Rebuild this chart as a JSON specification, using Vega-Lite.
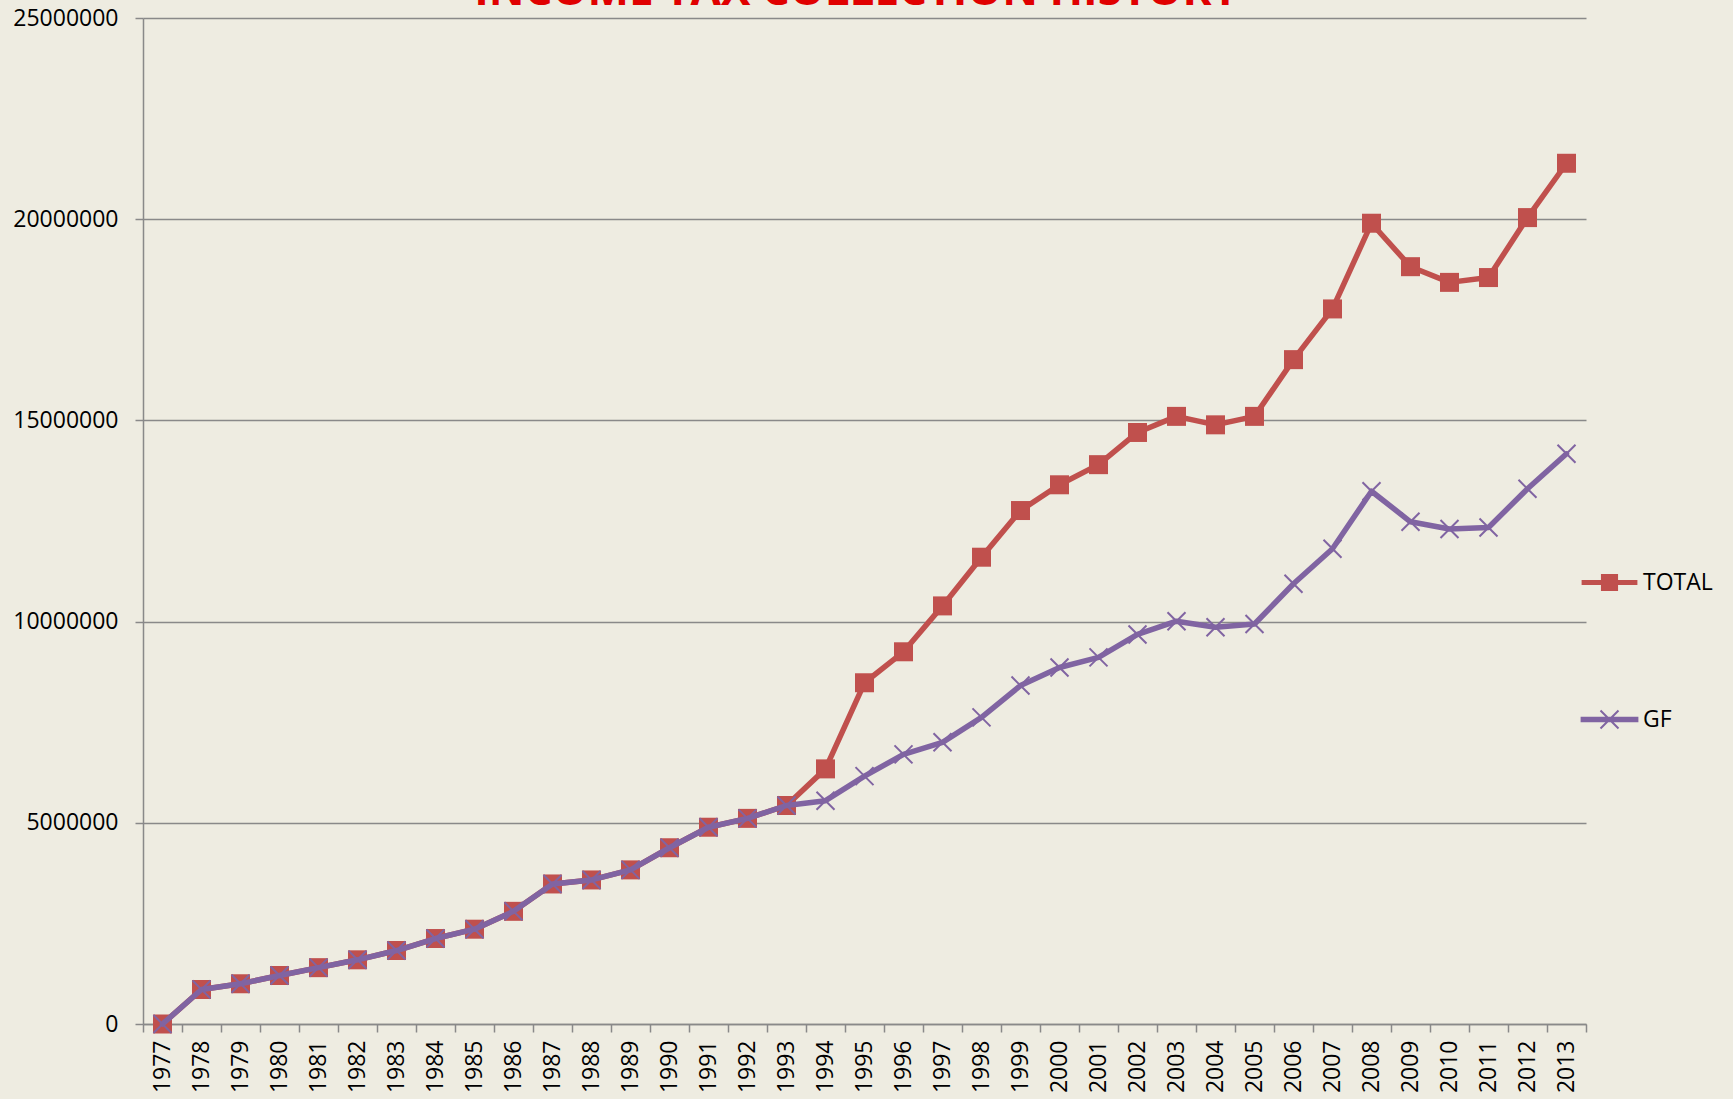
{
  "$schema": "https://vega.github.io/schema/vega-lite/v6.json",
  "width": 1443,
  "height": 1006,
  "autosize": {"type": "none"},
  "padding": {"left": 143, "top": 18, "right": 147, "bottom": 75},
  "background": "#EEECE1",
  "config": {
    "view": {"stroke": null},
    "font": "Open Sans"
  },
  "title": {
    "text": "INCOME TAX COLLECTION HISTORY",
    "color": "#E00000",
    "fontSize": 44,
    "fontWeight": "bold",
    "font": "Open Sans",
    "anchor": "middle",
    "frame": "group",
    "baseline": "alphabetic",
    "offset": 0,
    "dy": 42,
    "dx": -8
  },
  "data": {
    "values": [
      {"year": "1977", "series": "TOTAL", "value": 0},
      {"year": "1978", "series": "TOTAL", "value": 857000},
      {"year": "1979", "series": "TOTAL", "value": 1000000},
      {"year": "1980", "series": "TOTAL", "value": 1205000},
      {"year": "1981", "series": "TOTAL", "value": 1400000},
      {"year": "1982", "series": "TOTAL", "value": 1595000},
      {"year": "1983", "series": "TOTAL", "value": 1826000},
      {"year": "1984", "series": "TOTAL", "value": 2124000},
      {"year": "1985", "series": "TOTAL", "value": 2356000},
      {"year": "1986", "series": "TOTAL", "value": 2800000},
      {"year": "1987", "series": "TOTAL", "value": 3480000},
      {"year": "1988", "series": "TOTAL", "value": 3580000},
      {"year": "1989", "series": "TOTAL", "value": 3830000},
      {"year": "1990", "series": "TOTAL", "value": 4380000},
      {"year": "1991", "series": "TOTAL", "value": 4890000},
      {"year": "1992", "series": "TOTAL", "value": 5110000},
      {"year": "1993", "series": "TOTAL", "value": 5430000},
      {"year": "1994", "series": "TOTAL", "value": 6340000},
      {"year": "1995", "series": "TOTAL", "value": 8480000},
      {"year": "1996", "series": "TOTAL", "value": 9250000},
      {"year": "1997", "series": "TOTAL", "value": 10390000},
      {"year": "1998", "series": "TOTAL", "value": 11600000},
      {"year": "1999", "series": "TOTAL", "value": 12760000},
      {"year": "2000", "series": "TOTAL", "value": 13400000},
      {"year": "2001", "series": "TOTAL", "value": 13900000},
      {"year": "2002", "series": "TOTAL", "value": 14700000},
      {"year": "2003", "series": "TOTAL", "value": 15100000},
      {"year": "2004", "series": "TOTAL", "value": 14890000},
      {"year": "2005", "series": "TOTAL", "value": 15100000},
      {"year": "2006", "series": "TOTAL", "value": 16510000},
      {"year": "2007", "series": "TOTAL", "value": 17770000},
      {"year": "2008", "series": "TOTAL", "value": 19900000},
      {"year": "2009", "series": "TOTAL", "value": 18820000},
      {"year": "2010", "series": "TOTAL", "value": 18430000},
      {"year": "2011", "series": "TOTAL", "value": 18550000},
      {"year": "2012", "series": "TOTAL", "value": 20040000},
      {"year": "2013", "series": "TOTAL", "value": 21390000},
      {"year": "1977", "series": "GF", "value": 0},
      {"year": "1978", "series": "GF", "value": 857000},
      {"year": "1979", "series": "GF", "value": 1000000},
      {"year": "1980", "series": "GF", "value": 1205000},
      {"year": "1981", "series": "GF", "value": 1400000},
      {"year": "1982", "series": "GF", "value": 1595000},
      {"year": "1983", "series": "GF", "value": 1826000},
      {"year": "1984", "series": "GF", "value": 2124000},
      {"year": "1985", "series": "GF", "value": 2356000},
      {"year": "1986", "series": "GF", "value": 2800000},
      {"year": "1987", "series": "GF", "value": 3480000},
      {"year": "1988", "series": "GF", "value": 3580000},
      {"year": "1989", "series": "GF", "value": 3830000},
      {"year": "1990", "series": "GF", "value": 4380000},
      {"year": "1991", "series": "GF", "value": 4890000},
      {"year": "1992", "series": "GF", "value": 5110000},
      {"year": "1993", "series": "GF", "value": 5430000},
      {"year": "1994", "series": "GF", "value": 5550000},
      {"year": "1995", "series": "GF", "value": 6160000},
      {"year": "1996", "series": "GF", "value": 6700000},
      {"year": "1997", "series": "GF", "value": 7000000},
      {"year": "1998", "series": "GF", "value": 7620000},
      {"year": "1999", "series": "GF", "value": 8410000},
      {"year": "2000", "series": "GF", "value": 8860000},
      {"year": "2001", "series": "GF", "value": 9110000},
      {"year": "2002", "series": "GF", "value": 9680000},
      {"year": "2003", "series": "GF", "value": 10010000},
      {"year": "2004", "series": "GF", "value": 9860000},
      {"year": "2005", "series": "GF", "value": 9940000},
      {"year": "2006", "series": "GF", "value": 10940000},
      {"year": "2007", "series": "GF", "value": 11810000},
      {"year": "2008", "series": "GF", "value": 13240000},
      {"year": "2009", "series": "GF", "value": 12480000},
      {"year": "2010", "series": "GF", "value": 12300000},
      {"year": "2011", "series": "GF", "value": 12340000},
      {"year": "2012", "series": "GF", "value": 13300000},
      {"year": "2013", "series": "GF", "value": 14170000}
    ]
  },
  "encoding": {
    "x": {
      "field": "year",
      "type": "ordinal",
      "scale": {"type": "band", "paddingInner": 0, "paddingOuter": 0},
      "axis": {
        "title": null,
        "labelAngle": -90,
        "labelFont": "Open Sans",
        "labelFontSize": 23,
        "labelColor": "#000000",
        "labelPadding": 8,
        "labelOverlap": false,
        "tickBand": "extent",
        "tickSize": 8,
        "tickColor": "#898989",
        "tickWidth": 1.5,
        "domainColor": "#898989",
        "domainWidth": 1.5,
        "grid": false
      }
    },
    "y": {
      "field": "value",
      "type": "quantitative",
      "scale": {"domain": [0, 25000000], "nice": false},
      "axis": {
        "title": null,
        "values": [0, 5000000, 10000000, 15000000, 20000000, 25000000],
        "format": "d",
        "labelFont": "Open Sans",
        "labelFontSize": 23,
        "labelColor": "#000000",
        "labelPadding": 17,
        "tickSize": 8,
        "tickColor": "#898989",
        "tickWidth": 1.5,
        "domainColor": "#898989",
        "domainWidth": 1.5,
        "grid": true,
        "gridColor": "#898989",
        "gridWidth": 1.5
      }
    },
    "color": {
      "field": "series",
      "type": "nominal",
      "scale": {"domain": ["TOTAL", "GF"], "range": ["#C0504D", "#8064A2"]},
      "legend": {
        "title": null,
        "orient": "none",
        "legendX": 1455,
        "legendY": 553,
        "padding": 0,
        "symbolSize": 324,
        "labelFont": "Open Sans",
        "labelFontSize": 23,
        "labelColor": "#000000",
        "labelOffset": 22,
        "rowPadding": 111,
        "encode": {
          "symbols": {
            "update": {
              "shape": {"signal": "datum.value === 'TOTAL' ? 'M-3.1,-0.28H3.1V0.28H-3.1Z M-0.95,-0.95H0.95V0.95H-0.95Z' : 'M-3.1,-0.2H3.1V0.2H-3.1Z M-1,-1L1,1M-1,1L1,-1'"},
              "fill": {"signal": "datum.value === 'TOTAL' ? '#C0504D' : '#8064A2'"},
              "stroke": {"signal": "datum.value === 'TOTAL' ? '#C0504D' : '#8064A2'"},
              "strokeWidth": {"signal": "datum.value === 'TOTAL' ? 0 : 2"},
              "opacity": {"value": 1},
              "fillOpacity": {"value": 1},
              "strokeOpacity": {"value": 1}
            }
          }
        }
      }
    }
  },
  "layer": [
    {
      "transform": [{"filter": "datum.series === 'TOTAL'"}],
      "layer": [
        {"mark": {"type": "line", "strokeWidth": 5.5, "strokeJoin": "round", "strokeCap": "round"}},
        {"mark": {"type": "point", "shape": "square", "filled": true, "size": 361, "opacity": 1}}
      ]
    },
    {
      "transform": [{"filter": "datum.series === 'GF'"}],
      "layer": [
        {"mark": {"type": "line", "strokeWidth": 5.5, "strokeJoin": "round", "strokeCap": "round"}},
        {"mark": {"type": "point", "shape": "M-1,-1L1,1M-1,1L1,-1", "filled": false, "size": 324, "strokeWidth": 2, "opacity": 1}}
      ]
    }
  ]
}
